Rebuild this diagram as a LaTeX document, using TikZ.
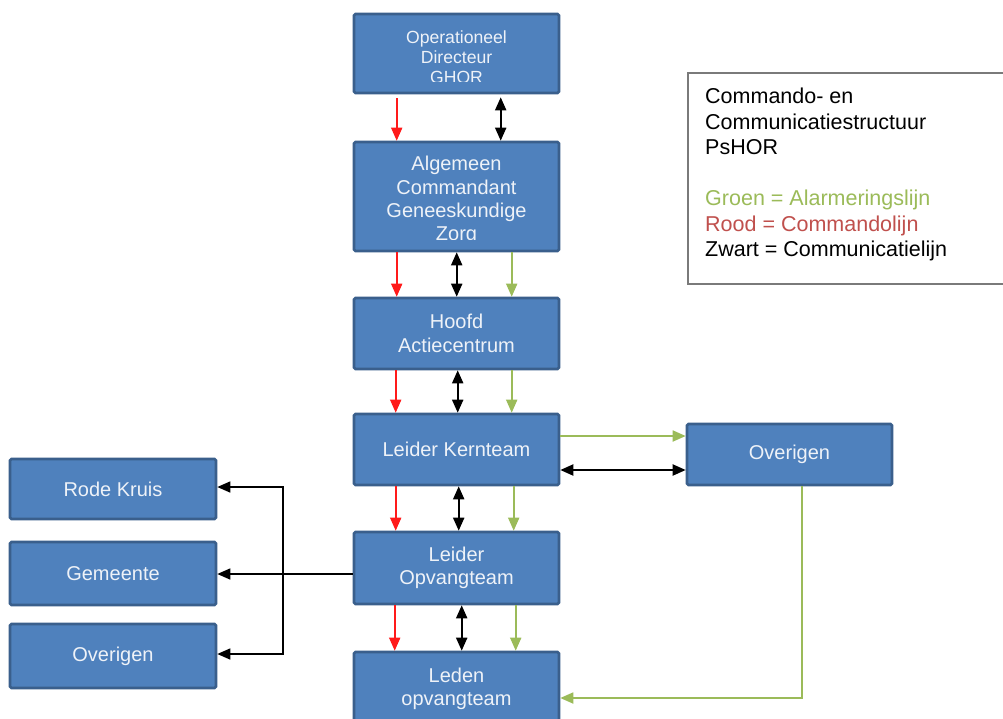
\documentclass[tikz,border=0pt]{standalone}
\usepackage{fontspec}
\setmainfont{Liberation Sans}
\usetikzlibrary{arrows.meta,calc}
\definecolor{boxfill}{HTML}{4F81BD}
\definecolor{boxline}{HTML}{3A5F8C}
\definecolor{gline}{HTML}{9BBB59}
\definecolor{rline}{HTML}{FF1A1A}
\definecolor{rtext}{HTML}{C0504D}
\definecolor{btext}{HTML}{EEF2F8}
\definecolor{lgframe}{HTML}{7A7A7A}
\tikzset{
  box/.style={draw=boxline, fill=boxfill, line width=2.6pt, rounded corners=1.5pt,
    text=btext, align=center, font=\fontsize{20}{23.5}\selectfont, inner sep=0pt},
  boxtxt/.style={text=btext, align=center, inner sep=0pt},
  tip/.style={-{Triangle[length=13pt,width=11pt]}},
  redl/.style={rline, line width=1.7pt, tip},
  grnl/.style={gline, line width=1.8pt, tip},
  blkd/.style={black, line width=2pt, {Triangle[length=13pt,width=11pt]}-{Triangle[length=13pt,width=11pt]}},
  blkl/.style={black, line width=1.5pt},
}
\begin{document}
\begin{tikzpicture}[x=1pt,y=-1pt]
\clip (0,0) rectangle (1003,718);
\fill[white] (0,0) rectangle (1003,718);

% main column
\node[box, minimum width=205, minimum height=79] (odg) at (456.5,53.5) {};
\node[box, minimum width=205, minimum height=109] (acgz) at (456.5,196.5) {};
\node[box, minimum width=205, minimum height=71] (hac) at (456.5,333.5) {Hoofd\\Actiecentrum};
\node[box, minimum width=205, minimum height=71] (lk) at (456.5,449.5) {Leider Kernteam};
\node[box, minimum width=205, minimum height=72] (lo) at (456.5,568) {Leider\\Opvangteam};
\node[box, minimum width=205, minimum height=74] (leden) at (456.5,689) {Leden\\opvangteam};

% clipped texts
\begin{scope}
\clip ($(odg.north west)+(0,8)$) rectangle ($(odg.south east)+(0,-13)$);
\node[boxtxt, font=\fontsize{17.6}{20}\selectfont] (odgt) at ($(odg.center)+(0,3.5)$) {Operationeel\\Directeur\\GHOR};
\end{scope}
\begin{scope}
\clip ($(acgz.north west)+(0,8)$) rectangle ($(acgz.south east)+(0,-13)$);
\node[boxtxt, font=\fontsize{20}{23.3}\selectfont] (acgzt) at ($(acgz.center)+(0,4)$) {Algemeen\\Commandant\\Geneeskundige\\Zorg};
\end{scope}

% left boxes
\node[box, minimum width=206, minimum height=60] (rk) at (113,489) {Rode Kruis};
\node[box, minimum width=206, minimum height=63] (gem) at (113,573.5) {Gemeente};
\node[box, minimum width=206, minimum height=64] (ovl) at (113,656) {Overigen};

% right box
\node[box, minimum width=205, minimum height=61] (ovr) at (789.5,454.5) {Overigen};

% legend
\draw[lgframe, line width=1.4pt] (688,73) rectangle (1012,284);
\node[anchor=north west, inner sep=0pt, align=left, font=\fontsize{21.5}{25.5}\selectfont] (leg) at (705,88)
  {Commando- en\\Communicatiestructuur\\PsHOR\\[25.5pt]
   \textcolor{gline}{Groen = Alarmeringslijn}\\
   \textcolor{rtext}{Rood = Commandolijn}\\
   Zwart = Communicatielijn};

% vertical connectors
\draw[redl] ([xshift=44pt,yshift=-4pt]odg.south west) -- ([xshift=44pt]acgz.north west);
\draw[blkd] ([xshift=148pt,yshift=-3pt]odg.south west) -- ([xshift=148pt]acgz.north west);

\draw[redl] ([xshift=44pt]acgz.south west) -- ([xshift=44pt]hac.north west);
\draw[blkd] ([xshift=104pt]acgz.south west) -- ([xshift=104pt]hac.north west);
\draw[grnl] ([xshift=159pt]acgz.south west) -- ([xshift=159pt]hac.north west);

\draw[redl] ([xshift=43pt]hac.south west) -- ([xshift=43pt]lk.north west);
\draw[blkd] ([xshift=105pt]hac.south west) -- ([xshift=105pt]lk.north west);
\draw[grnl] ([xshift=159pt]hac.south west) -- ([xshift=159pt]lk.north west);

\draw[redl] ([xshift=43pt]lk.south west) -- ([xshift=43pt]lo.north west);
\draw[blkd] ([xshift=106pt]lk.south west) -- ([xshift=106pt]lo.north west);
\draw[grnl] ([xshift=161pt]lk.south west) -- ([xshift=161pt]lo.north west);

\draw[redl] ([xshift=42pt]lo.south west) -- ([xshift=42pt]leden.north west);
\draw[blkd] ([xshift=109pt]lo.south west) -- ([xshift=109pt]leden.north west);
\draw[grnl] ([xshift=163pt]lo.south west) -- ([xshift=163pt]leden.north west);

% to right Overigen
\coordinate (yg) at (0,436);
\coordinate (yb) at (0,470);
\draw[grnl] (lk.east |- yg) -- (ovr.west |- yg);
\draw[blkd] (lk.east |- yb) -- (ovr.west |- yb);
\coordinate (gx) at (802,698);
\draw[grnl] (ovr.south -| gx) -- (gx) -- (leden.east |- gx);

% left bus
\coordinate (bus) at (283,574);
\draw[blkl, tip] (lo.west |- bus) -- (gem.east |- bus);
\draw[blkl, tip] (bus) |- ($(rk.east)+(0,-2)$);
\draw[blkl, tip] (bus) |- ($(ovl.east)+(0,-2)$);
\end{tikzpicture}
\end{document}
